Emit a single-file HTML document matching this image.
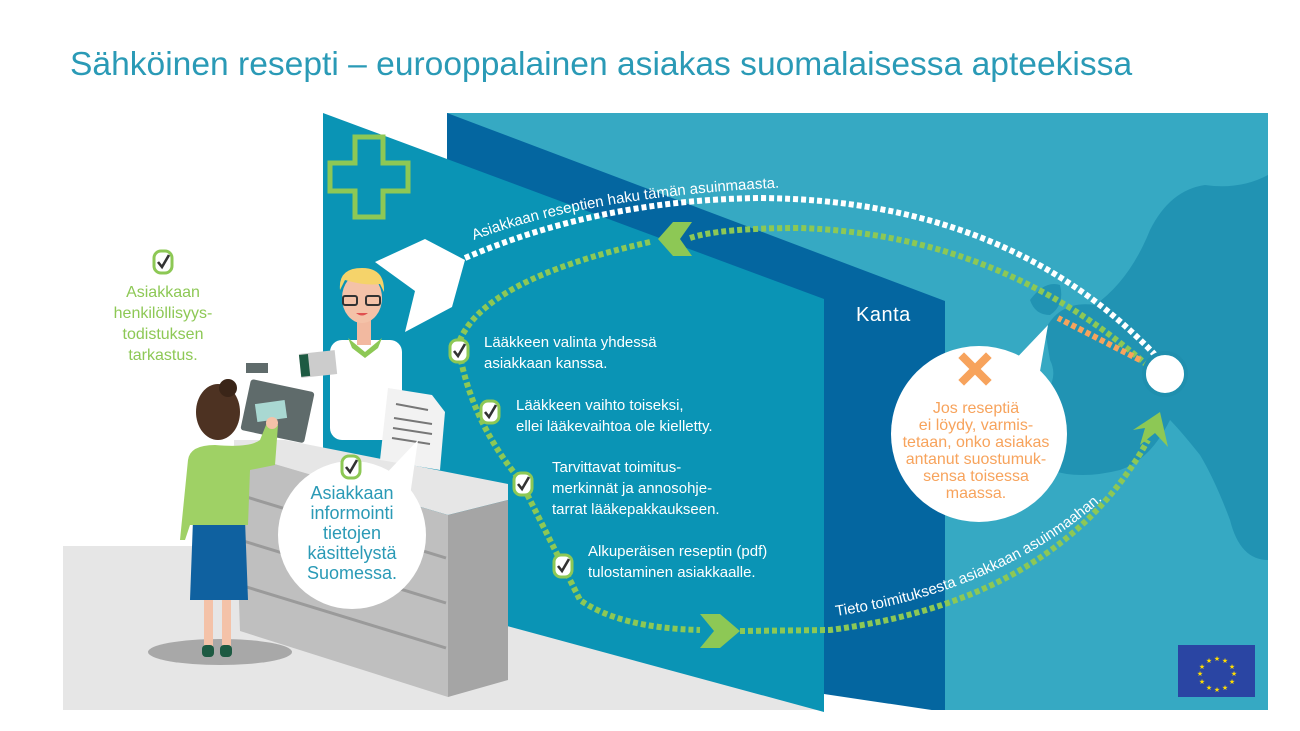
<!DOCTYPE html>
<html><head><meta charset="utf-8"><style>
html,body{margin:0;padding:0;background:#fff;}
svg{display:block;font-family:"Liberation Sans",sans-serif;}
</style></head><body>
<svg width="1300" height="731" viewBox="0 0 1300 731" xmlns="http://www.w3.org/2000/svg">
<defs>
<g id="chk"><rect x="-9" y="-11" width="18" height="22" rx="7" fill="#fff" stroke="#8dc855" stroke-width="3"/><path d="M-5 0 L-1 5 L6 -7" fill="none" stroke="#333" stroke-width="2.6"/></g>
</defs>
<text x="70" y="75" font-size="33.6" fill="#2a9ab6">Sähköinen resepti – eurooppalainen asiakas suomalaisessa apteekissa</text>

<!-- light panel -->
<rect x="447" y="113" width="821" height="597" fill="#36a9c3"/>
<!-- europe blobs -->
<g fill="#2193b3">
<path d="M1045 330 Q1060 300 1095 305 Q1130 280 1150 230 Q1170 190 1205 185 Q1240 190 1268 175 L1268 560 Q1240 560 1230 520 Q1215 480 1200 455 Q1180 430 1170 420 Q1150 460 1120 470 Q1080 480 1050 470 Q1030 430 1040 400 Q1060 380 1050 360 Z"/>
<path d="M1030 300 Q1045 280 1060 285 Q1065 305 1050 315 Q1035 315 1030 300Z"/>
</g>
<!-- dark panel -->
<polygon points="447,113 945,301 945,710 447,710" fill="#0466a0"/>
<polygon points="824,694 945,712 824,712" fill="#fff"/>
<!-- floor -->
<polygon points="63,546 323,546 824,700 824,710 63,710" fill="#e6e6e6"/>
<!-- teal wall -->
<polygon points="323,113 824,299 824,712 323,576" fill="#0a94b5"/>
<!-- plus -->
<path d="M355 137 h28 v26 h25 v28 h-25 v26 h-28 v-26 h-25 v-28 h25 z" fill="none" stroke="#8dc855" stroke-width="5"/>
<!-- white arrow shape -->
<polygon points="375,262 425,239 465,260 452,307 405,332 415,291" fill="#fff"/>
<text x="856" y="321" font-size="20" fill="#fff" letter-spacing="0.5">Kanta</text>

<!-- dotted arrows -->
<g fill="none" stroke-linecap="butt">
<path d="M465 258 Q600 200 760 198 Q1010 200 1158 358" stroke="#fff" stroke-width="6" stroke-dasharray="5 3"/>
<path d="M1148 366 Q1000 235 800 228 Q720 228 690 238" stroke="#8dc855" stroke-width="6" stroke-dasharray="5 3"/>
<path d="M650 242 Q480 280 458 345 Q470 420 520 480 Q560 560 580 600 Q620 628 700 630" stroke="#8dc855" stroke-width="6" stroke-dasharray="5 3"/>
<path d="M740 631 L830 630 Q1060 600 1148 440" stroke="#8dc855" stroke-width="6" stroke-dasharray="5 3"/>
<path d="M1140 360 L1058 318" stroke="#f7a35c" stroke-width="6" stroke-dasharray="5 3"/>
</g>
<polygon points="673,222 692,222 680,239 692,256 673,256 658,239" fill="#8dc855"/>
<polygon points="700,614 720,614 740,631 720,648 700,648 714,631" fill="#8dc855"/>
<polygon points="1133,430 1160,412 1168,447 1155,433 1140,445 1145,428" fill="#8dc855"/>

<path id="p1" d="M474 240 Q600 192 822 186" fill="none"/>
<text font-size="15" fill="#fff"><textPath href="#p1">Asiakkaan reseptien haku tämän asuinmaasta.</textPath></text>
<path id="p2" d="M836 616 Q1010 590 1115 488" fill="none"/>
<text font-size="15" fill="#fff"><textPath href="#p2">Tieto toimituksesta asiakkaan asuinmaahan.</textPath></text>

<!-- white circle -->
<circle cx="1165" cy="374" r="21" fill="#fff" stroke="#1f8fae" stroke-width="4"/>

<!-- checklist -->
<use href="#chk" x="459" y="351"/>
<use href="#chk" x="490" y="412"/>
<use href="#chk" x="523" y="484"/>
<use href="#chk" x="563" y="566"/>
<g font-size="15" fill="#fff">
<text x="484" y="347">Lääkkeen valinta yhdessä</text>
<text x="484" y="368">asiakkaan kanssa.</text>
<text x="516" y="410">Lääkkeen vaihto toiseksi,</text>
<text x="516" y="431">ellei lääkevaihtoa ole kielletty.</text>
<text x="552" y="472">Tarvittavat toimitus-</text>
<text x="552" y="493">merkinnät ja annosohje-</text>
<text x="552" y="514">tarrat lääkepakkaukseen.</text>
<text x="588" y="556">Alkuperäisen reseptin (pdf)</text>
<text x="588" y="577">tulostaminen asiakkaalle.</text>
</g>

<!-- orange bubble -->
<polygon points="1010,365 1048,325 1035,400" fill="#fff"/>
<circle cx="979" cy="434" r="88" fill="#fff"/>
<g stroke="#f7a35c" stroke-width="8" stroke-linecap="square"><line x1="964" y1="358" x2="986" y2="380"/><line x1="986" y1="358" x2="964" y2="380"/></g>
<g font-size="16" fill="#f7a35c" text-anchor="middle">
<text x="976" y="413">Jos reseptiä</text>
<text x="976" y="430">ei löydy, varmis-</text>
<text x="976" y="447">tetaan, onko asiakas</text>
<text x="976" y="464">antanut suostumuk-</text>
<text x="976" y="481">sensa toisessa</text>
<text x="976" y="498">maassa.</text>
</g>

<!-- EU flag -->
<rect x="1178" y="645" width="77" height="52" fill="#2a45a3"/>
<g fill="#ffdd00" font-size="7" text-anchor="middle">
<text x="1217" y="661">★</text><text x="1225" y="663">★</text><text x="1209" y="663">★</text>
<text x="1232" y="669">★</text><text x="1202" y="669">★</text>
<text x="1234" y="676">★</text><text x="1200" y="676">★</text>
<text x="1232" y="684">★</text><text x="1202" y="684">★</text>
<text x="1225" y="690">★</text><text x="1209" y="690">★</text><text x="1217" y="692">★</text>
</g>

<!-- left label -->
<use href="#chk" x="163" y="262"/>
<g font-size="16" fill="#8dc855" text-anchor="middle">
<text x="163" y="297">Asiakkaan</text>
<text x="163" y="318">henkilöllisyys-</text>
<text x="163" y="339">todistuksen</text>
<text x="163" y="360">tarkastus.</text>
</g>

<!-- pharmacist -->
<rect x="330" y="340" width="72" height="100" rx="12" fill="#fff"/>
<polygon points="348,338 365,352 382,338 378,348 365,358 352,348" fill="#8dc855"/>
<rect x="357" y="320" width="14" height="25" fill="#f2b9a0"/>
<ellipse cx="362" cy="298" rx="20" ry="25" fill="#f4c2a8"/>
<path d="M340 290 Q338 268 362 268 Q385 268 384 292 L380 284 Q365 286 345 280 Z" fill="#f5d36a"/>
<g fill="none" stroke="#333" stroke-width="2"><rect x="343" y="296" width="14" height="9" rx="2"/><rect x="366" y="296" width="14" height="9" rx="2"/></g>
<path d="M356 313 Q362 318 368 313" fill="#e05050"/>
<rect x="300" y="352" width="36" height="24" fill="#ccc" transform="rotate(-6 318 364)"/>
<rect x="300" y="353" width="9" height="22" fill="#1d5a42" transform="rotate(-6 318 364)"/>
<!-- register -->
<rect x="245" y="385" width="65" height="52" rx="3" fill="#5f6b6b" transform="rotate(12 277 411)"/>
<rect x="246" y="363" width="22" height="10" fill="#5f6b6b"/>
<rect x="256" y="402" width="30" height="18" fill="#a9d8d2" transform="rotate(-8 271 411)"/>
<!-- counter -->
<polygon points="234,440 285,440 508,484 508,500 448,515 234,452" fill="#e6e6e6"/>
<polygon points="234,452 448,515 448,697 240,631" fill="#bfbfbf"/>
<polygon points="448,515 508,500 508,680 448,697" fill="#a5a5a5"/>
<g stroke="#9a9a9a" stroke-width="3">
<line x1="240" y1="495" x2="446" y2="558"/><line x1="240" y1="540" x2="446" y2="603"/><line x1="240" y1="585" x2="446" y2="648"/>
</g>
<!-- paper -->
<polygon points="388,388 432,395 445,412 440,470 380,460" fill="#f2f2f2"/>
<g stroke="#777" stroke-width="2"><line x1="396" y1="404" x2="428" y2="410"/><line x1="394" y1="418" x2="432" y2="424"/><line x1="393" y1="428" x2="432" y2="434"/><line x1="392" y1="438" x2="430" y2="444"/></g>
<!-- info bubble -->
<polygon points="380,480 418,440 408,510" fill="#fff"/>
<circle cx="352" cy="535" r="74" fill="#fff"/>
<use href="#chk" x="351" y="467"/>
<g font-size="18" fill="#2a9ab6" text-anchor="middle">
<text x="352" y="499">Asiakkaan</text>
<text x="352" y="519">informointi</text>
<text x="352" y="539">tietojen</text>
<text x="352" y="559">käsittelystä</text>
<text x="352" y="579">Suomessa.</text>
</g>
<!-- woman -->
<ellipse cx="220" cy="652" rx="72" ry="13" fill="#a8a8a8"/>
<rect x="204" y="595" width="9" height="55" fill="#f4c2a8"/>
<rect x="222" y="595" width="9" height="55" fill="#f4c2a8"/>
<rect x="202" y="645" width="12" height="12" rx="4" fill="#1d5a42"/>
<rect x="220" y="645" width="12" height="12" rx="4" fill="#1d5a42"/>
<path d="M193 520 L245 520 L248 600 L190 600 Z" fill="#0f61a0"/>
<path d="M188 460 Q190 445 215 445 Q250 448 260 440 L268 420 L278 425 L275 465 L250 470 L248 525 L190 525 L185 540 L180 540 Z" fill="#9fd165"/>
<circle cx="272" cy="423" r="6" fill="#f4c2a8"/>
<ellipse cx="218" cy="412" rx="22" ry="28" fill="#4d3222"/>
<circle cx="228" cy="388" r="9" fill="#3a2518"/>
</svg>
</body></html>
